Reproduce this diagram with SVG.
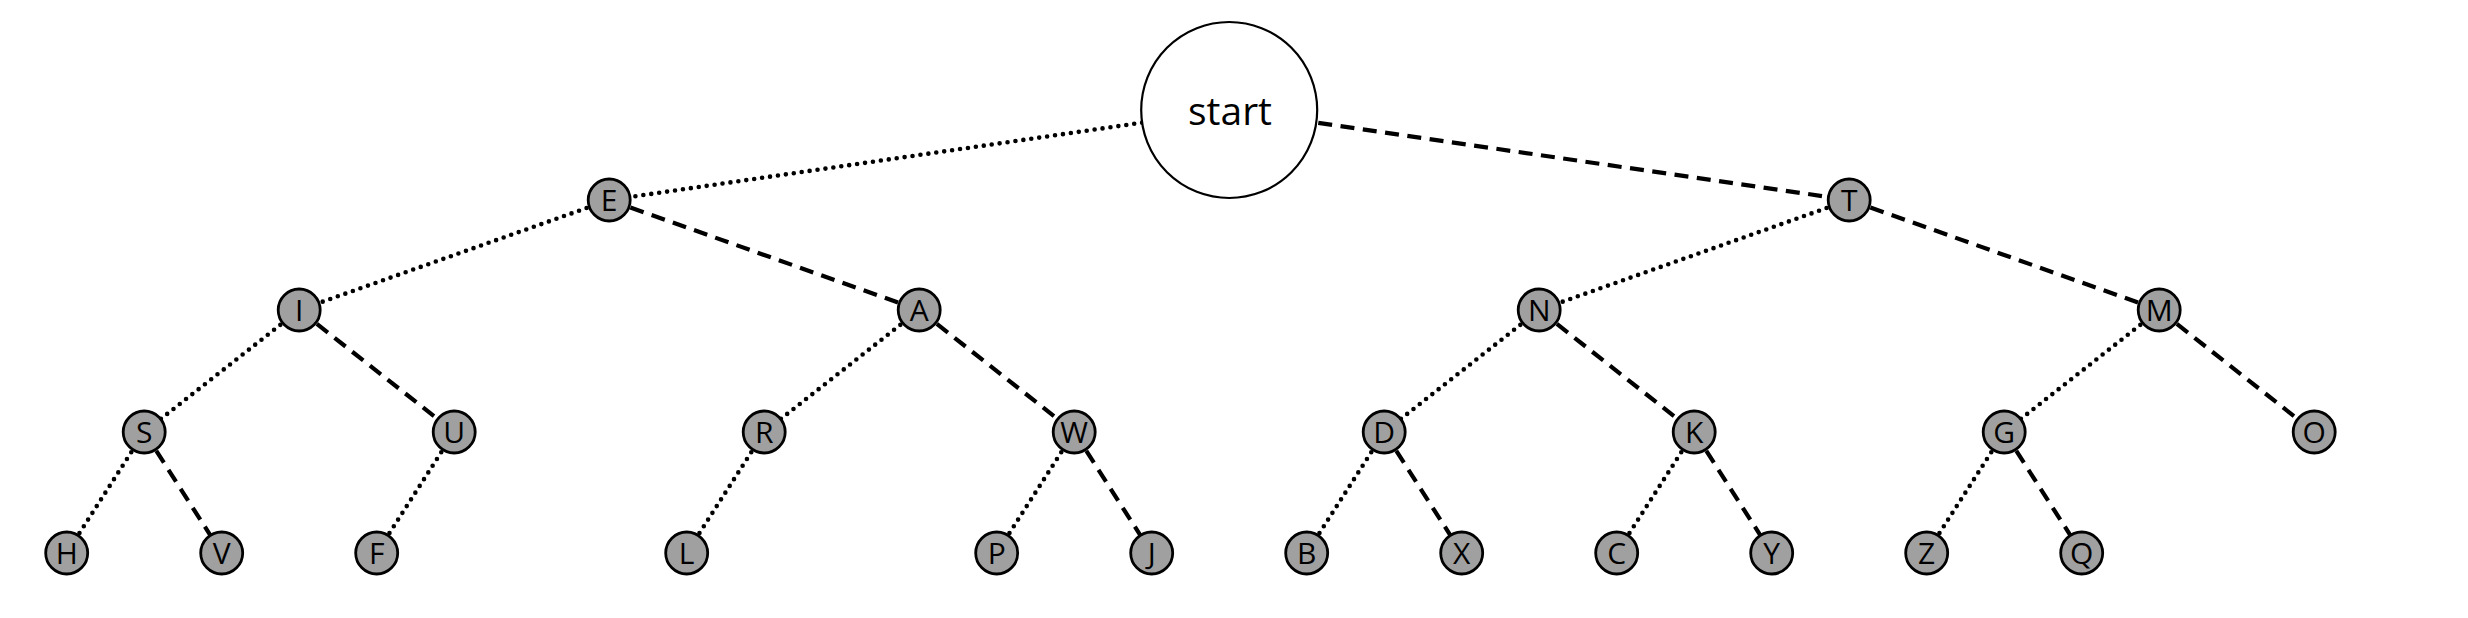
<svg xmlns="http://www.w3.org/2000/svg" width="2468" height="618" viewBox="0 0 2468 618">
<style>
.bg{fill:#ffffff}
.dot{stroke:#000;stroke-width:4.6;stroke-dasharray:0 8;stroke-linecap:round;fill:none}
.dash{stroke:#000;stroke-width:4.2;stroke-dasharray:14 8.5;stroke-linecap:butt;fill:none}
.n circle{fill:#a0a0a0;stroke:#000;stroke-width:2.8}
.n text{font-family:"Open Sans","Noto Sans",sans-serif;font-size:30px;fill:#000;text-anchor:middle}
#start circle{fill:#fff;stroke:#000;stroke-width:2.2}
#start text{font-family:"Open Sans","Noto Sans",sans-serif;font-size:39px;fill:#000;text-anchor:middle}
</style>
<rect class="bg" x="0" y="0" width="2468" height="618"/>
<g id="connectors">
<line class="dot" x1="1229.2" y1="110" x2="609.2" y2="200"/>
<line class="dash" x1="1229.2" y1="110" x2="1849.2" y2="200"/>
<line class="dot" x1="609.2" y1="200" x2="299.2" y2="310"/>
<line class="dash" x1="609.2" y1="200" x2="919.2" y2="310"/>
<line class="dot" x1="1849.2" y1="200" x2="1539.2" y2="310"/>
<line class="dash" x1="1849.2" y1="200" x2="2159.2" y2="310"/>
<line class="dot" x1="299.2" y1="310" x2="144.2" y2="432"/>
<line class="dash" x1="299.2" y1="310" x2="454.2" y2="432"/>
<line class="dot" x1="919.2" y1="310" x2="764.2" y2="432"/>
<line class="dash" x1="919.2" y1="310" x2="1074.2" y2="432"/>
<line class="dot" x1="1539.2" y1="310" x2="1384.2" y2="432"/>
<line class="dash" x1="1539.2" y1="310" x2="1694.2" y2="432"/>
<line class="dot" x1="2159.2" y1="310" x2="2004.2" y2="432"/>
<line class="dash" x1="2159.2" y1="310" x2="2314.2" y2="432"/>
<line class="dot" x1="144.2" y1="432" x2="66.7" y2="553"/>
<line class="dash" x1="144.2" y1="432" x2="221.7" y2="553"/>
<line class="dot" x1="454.2" y1="432" x2="376.7" y2="553"/>
<line class="dot" x1="764.2" y1="432" x2="686.7" y2="553"/>
<line class="dot" x1="1074.2" y1="432" x2="996.7" y2="553"/>
<line class="dash" x1="1074.2" y1="432" x2="1151.7" y2="553"/>
<line class="dot" x1="1384.2" y1="432" x2="1306.7" y2="553"/>
<line class="dash" x1="1384.2" y1="432" x2="1461.7" y2="553"/>
<line class="dot" x1="1694.2" y1="432" x2="1616.7" y2="553"/>
<line class="dash" x1="1694.2" y1="432" x2="1771.7" y2="553"/>
<line class="dot" x1="2004.2" y1="432" x2="1926.7" y2="553"/>
<line class="dash" x1="2004.2" y1="432" x2="2081.7" y2="553"/>
</g>
<g id="start"><circle cx="1229.2" cy="110" r="88"/><text x="1230" y="125">start</text></g>
<g id="E" class="n"><circle cx="609.2" cy="200" r="21"/><text x="609.2" y="210.6">E</text></g>
<g id="T" class="n"><circle cx="1849.2" cy="200" r="21"/><text x="1849.2" y="210.6">T</text></g>
<g id="I" class="n"><circle cx="299.2" cy="310" r="21"/><text x="299.2" y="320.6">I</text></g>
<g id="A" class="n"><circle cx="919.2" cy="310" r="21"/><text x="919.2" y="320.6">A</text></g>
<g id="N" class="n"><circle cx="1539.2" cy="310" r="21"/><text x="1539.2" y="320.6">N</text></g>
<g id="M" class="n"><circle cx="2159.2" cy="310" r="21"/><text x="2159.2" y="320.6">M</text></g>
<g id="S" class="n"><circle cx="144.2" cy="432" r="21"/><text x="144.2" y="442.6">S</text></g>
<g id="U" class="n"><circle cx="454.2" cy="432" r="21"/><text x="454.2" y="442.6">U</text></g>
<g id="R" class="n"><circle cx="764.2" cy="432" r="21"/><text x="764.2" y="442.6">R</text></g>
<g id="W" class="n"><circle cx="1074.2" cy="432" r="21"/><text x="1074.2" y="442.6">W</text></g>
<g id="D" class="n"><circle cx="1384.2" cy="432" r="21"/><text x="1384.2" y="442.6">D</text></g>
<g id="K" class="n"><circle cx="1694.2" cy="432" r="21"/><text x="1694.2" y="442.6">K</text></g>
<g id="G" class="n"><circle cx="2004.2" cy="432" r="21"/><text x="2004.2" y="442.6">G</text></g>
<g id="O" class="n"><circle cx="2314.2" cy="432" r="21"/><text x="2314.2" y="442.6">O</text></g>
<g id="H" class="n"><circle cx="66.7" cy="553" r="21"/><text x="66.7" y="563.6">H</text></g>
<g id="V" class="n"><circle cx="221.7" cy="553" r="21"/><text x="221.7" y="563.6">V</text></g>
<g id="F" class="n"><circle cx="376.7" cy="553" r="21"/><text x="376.7" y="563.6">F</text></g>
<g id="L" class="n"><circle cx="686.7" cy="553" r="21"/><text x="686.7" y="563.6">L</text></g>
<g id="P" class="n"><circle cx="996.7" cy="553" r="21"/><text x="996.7" y="563.6">P</text></g>
<g id="J" class="n"><circle cx="1151.7" cy="553" r="21"/><text x="1151.7" y="563.6">J</text></g>
<g id="B" class="n"><circle cx="1306.7" cy="553" r="21"/><text x="1306.7" y="563.6">B</text></g>
<g id="X" class="n"><circle cx="1461.7" cy="553" r="21"/><text x="1461.7" y="563.6">X</text></g>
<g id="C" class="n"><circle cx="1616.7" cy="553" r="21"/><text x="1616.7" y="563.6">C</text></g>
<g id="Y" class="n"><circle cx="1771.7" cy="553" r="21"/><text x="1771.7" y="563.6">Y</text></g>
<g id="Z" class="n"><circle cx="1926.7" cy="553" r="21"/><text x="1926.7" y="563.6">Z</text></g>
<g id="Q" class="n"><circle cx="2081.7" cy="553" r="21"/><text x="2081.7" y="563.6">Q</text></g>
</svg>
